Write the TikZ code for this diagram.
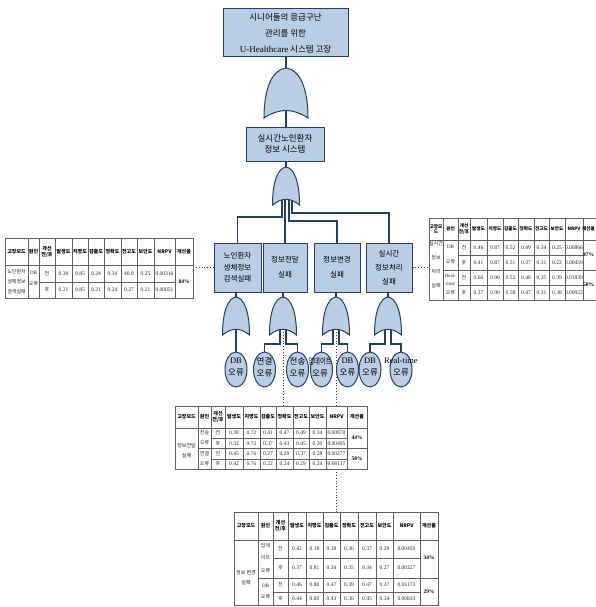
\documentclass[tikz,border=0pt]{standalone}
\usepackage{fontspec}
\usepackage{graphicx}
\setmainfont{Liberation Serif}
\newfontfamily\kr{Noto Sans CJK KR}
\usetikzlibrary{shapes.geometric}
\pgfdeclarelayer{bg}
\pgfsetlayers{bg,main}
\definecolor{boxfill}{HTML}{B9CDE5}
\definecolor{navy}{HTML}{243F60}
\definecolor{tline}{HTML}{606060}
\newcommand\JH{개선\\전/후}
\newcommand\orgate[5]{%
  \draw[gatest] ({#2-#4/2},{#3+#5})
    .. controls ({#2-#4/2},{#3+0.38*#5}) and ({#2-0.3*#4},{#3+0.03*#5}) .. ({#2},{#3})
    .. controls ({#2+0.3*#4},{#3+0.03*#5}) and ({#2+#4/2},{#3+0.38*#5}) .. ({#2+#4/2},{#3+#5})
    .. controls ({#2+0.15*#4},{#3+0.8*#5}) and ({#2-0.15*#4},{#3+0.8*#5}) .. ({#2-#4/2},{#3+#5}) -- cycle;
  \coordinate (#1t) at ({#2},{#3});
  \coordinate (#1b) at ({#2},{#3+0.85*#5});
}
\newcommand\thead[4]{%
  \foreach \t [count=\i] in {#4,원인,\JH,발생도,치명도,검출도,정확도,전고도,보안도,NRPV,개선율}{%
    \pgfmathsetmacro\xx{#3[\i-1]}%
    \node[th] (#1h\i) at (\xx,#2) {\t};}}
\newcommand\drow[5]{%
  \pgfmathsetmacro\xx{#3[2]}%
  \node[tk] (#1k) at (\xx,#2) {#4};
  \foreach \v [count=\i from 4] in {#5}{%
    \pgfmathsetmacro\xx{#3[\i-1]}%
    \node[tc] (#1v\i) at (\xx,#2) {\v};}}
\begin{document}
\begin{tikzpicture}[x=1pt,y=-1pt,
  fbox/.style={draw=navy, fill=boxfill, line width=1pt, inner sep=0pt, align=center},
  conn/.style={draw=navy, line width=1.1pt},
  gatest/.style={draw=navy, fill=boxfill, line width=1pt},
  ev/.style={ellipse, draw=navy, fill=boxfill, line width=1pt, minimum width=22pt, minimum height=35pt, inner sep=0pt},
  evt/.style={align=center, inner sep=0pt, font=\kr\fontsize{8.5}{12}\selectfont},
  dots/.style={draw=black!75, dotted, line width=0.8pt},
  tbl/.style={draw=tline, fill=white, line width=0.6pt, inner sep=0pt},
  tl/.style={draw=tline, line width=0.4pt},
  tc/.style={inner sep=0pt, font=\fontsize{5.5}{6}\selectfont, text=black!85},
  tk/.style={inner sep=0pt, align=center, font=\kr\fontsize{5}{6}\selectfont, text=black!85},
  th/.style={inner sep=0pt, align=center, font=\kr\bfseries\fontsize{5}{6}\selectfont},
  tp/.style={inner sep=0pt, font=\bfseries\fontsize{5.5}{6}\selectfont}
]
\useasboundingbox (0,0) rectangle (596,607);
\begin{pgfonlayer}{bg}
\fill[white] (0,0) rectangle (596,607);
\end{pgfonlayer}

% boxes
\node[fbox, minimum width=125pt, minimum height=48pt, font=\kr\fontsize{8.5}{16}\selectfont] (T0) at (285.5,33)
  {시니어들의 응급구난\\관리를 위한\\{\rmfamily\fontsize{9}{16}\selectfont U-Healthcare} 시스템 고장};
\node[fbox, minimum width=78pt, minimum height=34pt, font=\kr\fontsize{8.5}{11}\selectfont] (L2) at (285,144)
  {실시간노인환자\\정보 시스템};
\node[fbox, minimum width=47pt, minimum height=49pt, font=\kr\fontsize{7.5}{11.5}\selectfont] (B1) at (237.5,267.5)
  {노인환자\\생체정보\\검색실패};
\node[fbox, minimum width=44pt, minimum height=49pt, font=\kr\fontsize{7.5}{15}\selectfont] (B2) at (285,267.5)
  {정보전달\\실패};
\node[fbox, minimum width=46pt, minimum height=49pt, font=\kr\fontsize{7.5}{15}\selectfont] (B3) at (337,267.5)
  {정보변경\\실패};
\node[fbox, minimum width=46pt, minimum height=49pt, font=\kr\fontsize{7.5}{14}\selectfont] (B4) at (389,267.5)
  {실시간\\정보처리\\실패};

% gates
\orgate{G0}{286}{68}{44}{50}
\orgate{G1}{286}{167}{27}{38}
\orgate{ga}{236}{297}{27}{38}
\orgate{gb}{283}{297}{27}{38}
\orgate{gc}{336}{297}{27}{38}
\orgate{gd}{388}{297}{27}{38}

% basic events
\node[ev] (e1) at (236,369.5) {};
\node[evt] (e1t) at (236,367) {{\rmfamily DB}\\오류};
\node[ev] (e2) at (264.5,369.5) {};
\node[evt] (e2t) at (264.5,367) {연결\\오류};
\node[ev] (e3) at (297.5,369.5) {};
\node[evt] (e3t) at (297.5,367) {전송\\오류};
\node[ev] (e4) at (321.5,369.5) {};
\node[evt] (e4t) at (320,367) {\scalebox{0.75}[1]{업데이트}\\오류};
\node[ev] (e5) at (347.5,369.5) {};
\node[evt] (e5t) at (347.5,367) {{\rmfamily DB}\\오류};
\node[ev] (e6) at (370,369.5) {};
\node[evt] (e6t) at (370,367) {{\rmfamily DB}\\오류};
\node[ev] (e7) at (401,369.5) {};
\node[evt] (e7t) at (401,367) {{\rmfamily Real-time}\\오류};

% leg coordinates
\coordinate (f1) at (282,192);
\coordinate (f2) at (285,192);
\coordinate (f3) at (289,192);
\coordinate (f4) at (292,192);
\coordinate (gbL) at (280,325);
\coordinate (gbR) at (286,325);
\coordinate (gcL) at (333,325);
\coordinate (gcR) at (339,325);
\coordinate (gdL) at (385,325);
\coordinate (gdR) at (391,325);

% tables
\node[tbl, minimum width=188pt, minimum height=60pt] (T1) at (99,268) {};
\foreach \x in {28,39,55,72,88,104,121,137,154,175} \draw[tl] (\x,238) -- (\x,298);
\draw[tl] (5,265) -- (193,265);
\draw[tl] (39,282) -- (175,282);
\def\TXa{{16.5,33.5,47,63.5,80,96,112.5,129,145.5,164.5,184}}
\thead{T1}{251.5}{\TXa}{고장모드}
\drow{T1a}{273.5}{\TXa}{전}{0.38,0.85,0.24,0.34,40.8,0.25,0.00316}
\drow{T1b}{290}{\TXa}{후}{0.21,0.85,0.21,0.24,0.27,0.21,0.00051}
\node[tk, font=\kr\fontsize{5}{10}\selectfont] (T1m) at (16.5,282) {노인환자\\생체정보\\검색실패};
\node[tk, font=\kr\fontsize{5}{10.5}\selectfont] (T1c) at (33.5,278.5) {{\rmfamily DB}\\오류};
\node[tp] (T1p) at (184,281.5) {84\%};

\begin{scope}[th/.append style={font=\kr\bfseries\fontsize{4.6}{5.6}\selectfont}]
\clip (0,0) rectangle (596,607);
\node[tbl, minimum width=171pt, minimum height=82pt] (T2) at (514.5,259) {};
\foreach \x in {443,458,470,487,503,518,534,549,565,583} \draw[tl] (\x,218) -- (\x,300);
\draw[tl] (429,240) -- (600,240);
\draw[tl] (458,255) -- (583,255);
\draw[tl] (443,270) -- (600,270);
\draw[tl] (458,285) -- (583,285);
\def\TXb{{436,450.5,464,478.5,495,510.5,526,541.5,557,574,588.5}}
\thead{T2}{229}{\TXb}{고장모\\드}
\drow{T2a}{247.5}{\TXb}{전}{0.46,0.87,0.52,0.49,0.34,0.25,0.00866}
\drow{T2b}{262.5}{\TXb}{후}{0.41,0.87,0.51,0.37,0.31,0.22,0.00459}
\drow{T2c}{277.5}{\TXb}{전}{0.60,0.90,0.52,0.48,0.35,0.39,0.01839}
\drow{T2d}{292.5}{\TXb}{후}{0.37,0.90,0.58,0.47,0.31,0.38,0.00922}
\node[tk, font=\kr\fontsize{5}{14}\selectfont] (T2m) at (436,265) {실시간\\정보\\처리\\실패};
\node[tk, font=\kr\fontsize{5}{15}\selectfont] (T2c1) at (450.5,255) {{\rmfamily DB}\\오류};
\node[tk, font=\kr\fontsize{5}{8.5}\selectfont] (T2c2) at (450.5,284) {{\rmfamily Real-}\\{\rmfamily time}\\오류};
\node[tp] (T2p1) at (588.5,255) {47\%};
\node[tp] (T2p2) at (588.5,285) {50\%};
\end{scope}

\node[tbl, minimum width=192pt, minimum height=63pt] (T3) at (271,437.5) {};
\foreach \x in {198,211,225,243,260,276,293,309,326,347} \draw[tl] (\x,406) -- (\x,469);
\draw[tl] (175,428) -- (367,428);
\draw[tl] (211,438) -- (347,438);
\draw[tl] (198,448.5) -- (367,448.5);
\draw[tl] (211,459) -- (347,459);
\def\TXc{{186.5,204.5,218,234,251.5,268,284.5,301,317.5,336.5,357}}
\thead{T3}{417}{\TXc}{고장모드}
\drow{T3a}{433}{\TXc}{전}{0.38,0.72,0.41,0.47,0.49,0.34,0.00878}
\drow{T3b}{443.3}{\TXc}{후}{0.32,0.72,0.37,0.43,0.45,0.30,0.00495}
\drow{T3c}{453.8}{\TXc}{전}{0.45,0.76,0.27,0.29,0.37,0.28,0.00277}
\drow{T3d}{464}{\TXc}{후}{0.42,0.76,0.22,0.24,0.29,0.24,0.00117}
\node[tk, font=\kr\fontsize{5}{10}\selectfont] (T3m) at (186.5,451) {정보전달\\실패};
\node[tk, font=\kr\fontsize{5}{10}\selectfont] (T3c1) at (204.5,438) {전송\\오류};
\node[tk, font=\kr\fontsize{5}{10}\selectfont] (T3c2) at (204.5,458.5) {연결\\오류};
\node[tp] (T3p1) at (357,438) {44\%};
\node[tp] (T3p2) at (357,458.5) {58\%};

\node[tbl, minimum width=204pt, minimum height=93pt] (T4) at (336,558.5) {};
\foreach \x in {258,273,288,306,323,340,358,376,393,420} \draw[tl] (\x,512) -- (\x,605);
\draw[tl] (234,540) -- (438,540);
\draw[tl] (273,558) -- (420,558);
\draw[tl] (258,578) -- (438,578);
\draw[tl] (273,592) -- (420,592);
\def\TXd{{246,265.5,280.5,297,314.5,331.5,349,367,384.5,406.5,429}}
\thead{T4}{526}{\TXd}{고장모드}
\drow{T4a}{549}{\TXd}{전}{0.42,0.18,0.38,0.36,0.37,0.29,0.00459}
\drow{T4b}{568}{\TXd}{후}{0.37,0.81,0.34,0.35,0.34,0.27,0.00327}
\drow{T4c}{585}{\TXd}{전}{0.46,0.80,0.47,0.39,0.47,0.37,0.01173}
\drow{T4d}{598.5}{\TXd}{후}{0.44,0.80,0.43,0.36,0.45,0.34,0.00833}
\node[tk, font=\kr\fontsize{5}{10}\selectfont] (T4m) at (246,578) {정보 변경\\실패};
\node[tk, font=\kr\fontsize{5}{12.5}\selectfont] (T4c1) at (265.5,558) {업데\\이트\\오류};
\node[tk, font=\kr\fontsize{5}{11}\selectfont] (T4c2) at (265.5,591.5) {{\rmfamily DB}\\오류};
\node[tp] (T4p1) at (429,558) {34\%};
\node[tp] (T4p2) at (429,591.5) {29\%};

% connectors
\begin{pgfonlayer}{bg}
\draw[conn] (T0.south -| G0t) -- (G0t);
\draw[conn] (G0b) -- (G0b |- L2.north);
\draw[conn] (L2.south -| G1t) -- (G1t);
\draw[conn] (f1) -- ++(0,25) -| (B1.north);
\draw[conn] (f2) -- (f2 |- B2.north);
\draw[conn] (f3) -- ++(0,29) -| (B3.north);
\draw[conn] (f4) -- ++(0,21) -| (B4.north);
\draw[conn] (B1.south -| gat) -- (gat);
\draw[conn] (B2.south -| gbt) -- (gbt);
\draw[conn] (B3.south -| gct) -- (gct);
\draw[conn] (B4.south -| gdt) -- (gdt);
\draw[conn] (gab) -- (gab |- e1.north);
\draw[conn] (gbL) -- ++(0,19) -| (e2.north);
\draw[conn] (gbR) -- ++(0,19) -| (e3.north);
\draw[conn] (gcL) -- ++(0,19) -| (e4.north);
\draw[conn] (gcR) -- ++(0,19) -| (e5.north);
\draw[conn] (gdL) -- ++(0,19) -| (e6.north);
\draw[conn] (gdR) -- ++(0,19) -| (e7.north);
\draw[dots] (gbb) -- (gbb |- T3.north);
\draw[dots] (gcb) -- (gcb |- T4.north);
\draw[dots] (B1.west) -- (B1.west -| T1.east);
\draw[dots] (B4.east) -- (B4.east -| T2.west);
\end{pgfonlayer}
\end{tikzpicture}
\end{document}
